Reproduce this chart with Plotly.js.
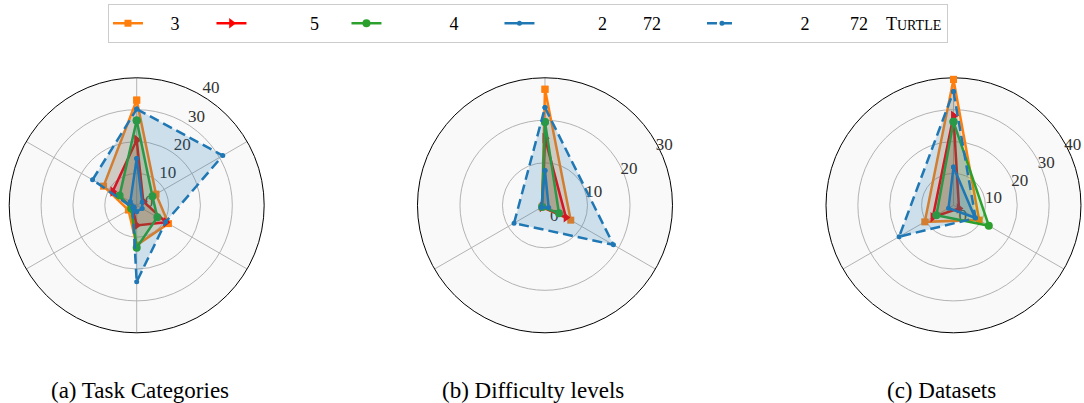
<!DOCTYPE html>
<html><head><meta charset="utf-8">
<script src="https://cdn.plot.ly/plotly-3.0.1.min.js"></script>
<style>html,body{margin:0;padding:0;background:#fff}</style>
</head><body><div id="chart" style="width:1084px;height:403px"></div>
<script>
// ---- categories (labels hidden in the original figure) ----
const taskCats = ['T1', 'T2', 'T3', 'T4', 'T5', 'T6'];
const levelCats = ['L1', 'L2', 'L3'];
const datasetCats = ['D1', 'D2', 'D3'];

// ---- radial tick values ----
const ticks40 = [0, 10, 20, 30, 40];
const ticks30 = [0, 10, 20, 30];

// ---- legend labels (as rendered in the reference) ----
const EM = '\u2003', NB = '\u00a0';
const seriesNames = [
  EM + NB + '3' + EM + NB + NB,
  EM + EM + EM + NB + '5' + EM + NB,
  EM + EM + EM + NB + NB + '4' + EM + EM,
  EM + EM + EM + NB + '2' + EM + EM + '72' + EM + EM,
  EM + EM + EM + NB + '2' + EM + EM + NB + '72' + EM + 'T<span style="font-size:14px">URTLE</span>'
];

// ---- (a) Task Categories ----
const taskOrange = [33, 7, 11.5, 12.5, 3, 12];
const taskRed    = [20.5, 2.4, 10.6, 6.3, 1.5, 8.7];
const taskGreen  = [26.6, 5.7, 7.5, 13.3, 2, 6.2];
const taskBlue   = [14.7, 2, 2, 2, 1, 2.3];
const taskBlueT  = [30.2, 31.2, 10.5, 24, 1.5, 16];

// ---- (b) Difficulty levels ----
const levelOrange = [27.3, 7, 0.8];
const levelRed    = [15.8, 5.7, 0.8];
const levelGreen  = [19.6, 3.8, 0.8];
const levelBlue   = [8.2, 1, 1];
const levelBlueT  = [23, 18.6, 8.4];

// ---- (c) Datasets ----
const dataOrange = [39.5, 9.3, 10.4];
const dataRed    = [28, 2, 7.5];
const dataGreen  = [26.2, 12.8, 6.2];
const dataBlue   = [12, 7.8, 1.8];
const dataBlueT  = [35.7, 8, 19.7];

const styles = [
  {color: '#ff7f0e', fill: 'rgba(255,127,14,0.2)', symbol: 'square', size: 7, dash: 'solid'},
  {color: '#ff0000', fill: 'rgba(255,0,0,0.2)', symbol: 'triangle-right', size: 9, dash: 'solid'},
  {color: '#2ca02c', fill: 'rgba(44,160,44,0.2)', symbol: 'circle', size: 8, dash: 'solid'},
  {color: '#1f77b4', fill: 'rgba(31,119,180,0.2)', symbol: 'circle', size: 5, dash: 'solid'},
  {color: '#1f77b4', fill: 'rgba(31,119,180,0.2)', symbol: 'circle', size: 5, dash: '10px,5px'}
];

const panels = [
  {polar: 'polar',  cats: taskCats,    series: [taskOrange, taskRed, taskGreen, taskBlue, taskBlueT]},
  {polar: 'polar2', cats: levelCats,   series: [levelOrange, levelRed, levelGreen, levelBlue, levelBlueT]},
  {polar: 'polar3', cats: datasetCats, series: [dataOrange, dataRed, dataGreen, dataBlue, dataBlueT]}
];

const closed = a => a.concat([a[0]]);
const traces = [];
panels.forEach((p, pi) => {
  p.series.forEach((vals, si) => {
    const s = styles[si];
    // shaded area (no legend entry)
    traces.push({
      type: 'scatterpolar', subplot: p.polar,
      r: closed(vals), theta: closed(p.cats),
      mode: 'none', fill: 'toself', fillcolor: s.fill,
      showlegend: false, hoverinfo: 'skip'
    });
    // outline with markers
    traces.push({
      type: 'scatterpolar', subplot: p.polar,
      r: closed(vals), theta: closed(p.cats),
      mode: 'lines+markers',
      line: {color: s.color, width: 2.5, dash: s.dash},
      marker: {color: s.color, symbol: s.symbol, size: s.size},
      name: seriesNames[si],
      legendgroup: 'g' + si,
      showlegend: pi === 0,
      hoverinfo: 'skip'
    });
  });
});

function polarLayout(domainX, tickVals, labelAngle, tickText) {
  return {
    domain: {x: domainX, y: [0.1742, 0.807]},
    bgcolor: '#f9f9f9',
    radialaxis: {
      range: [0, tickVals[tickVals.length - 1]],
      tickvals: tickVals,
      ticktext: tickText,
      side: 'clockwise',
      showline: false, ticks: '', angle: labelAngle, tickangle: labelAngle,
      gridcolor: '#b3b3b3', gridwidth: 1,
      tickfont: {family: 'Liberation Serif', size: 17, color: '#333'},
      layer: 'below traces'
    },
    angularaxis: {
      type: 'category', direction: 'clockwise', rotation: 90,
      showticklabels: false, ticks: '',
      showline: true, linecolor: '#000', linewidth: 1,
      gridcolor: '#b3b3b3', gridwidth: 1,
      layer: 'below traces'
    }
  };
}

const layout = {
  width: 1084, height: 403,
  margin: {l: 0, r: 0, t: 0, b: 0},
  paper_bgcolor: '#fff',
  font: {family: 'Liberation Serif', color: '#000'},
  showlegend: true,
  legend: {
    orientation: 'h', x: 0.0996, xanchor: 'left', y: 0.99, yanchor: 'top',
    bordercolor: '#cccccc', borderwidth: 1, bgcolor: '#fff',
    font: {family: 'Liberation Serif', size: 18, color: '#000'}
  },
  polar: polarLayout([0.0085, 0.2437], ticks40, 63, ticks40.map(v => v + '<br>' + NB)),
  polar2: polarLayout([0.3847, 0.6208], ticks30, 34, ticks30.map(String)),
  polar3: polarLayout([0.762, 0.9972], ticks40, 34, ticks40.map(String)),
  annotations: [
    {text: '(a) Task Categories', x: 0.129, y: 0.032, xref: 'paper', yref: 'paper', showarrow: false, xanchor: 'center', yanchor: 'middle', font: {size: 23, family: 'Liberation Serif'}},
    {text: '(b) Difficulty levels', x: 0.492, y: 0.032, xref: 'paper', yref: 'paper', showarrow: false, xanchor: 'center', yanchor: 'middle', font: {size: 23, family: 'Liberation Serif'}},
    {text: '(c) Datasets', x: 0.8685, y: 0.032, xref: 'paper', yref: 'paper', showarrow: false, xanchor: 'center', yanchor: 'middle', font: {size: 23, family: 'Liberation Serif'}}
  ]
};

Plotly.newPlot('chart', traces, layout, {staticPlot: true, displayModeBar: false});
</script>
</body></html>
